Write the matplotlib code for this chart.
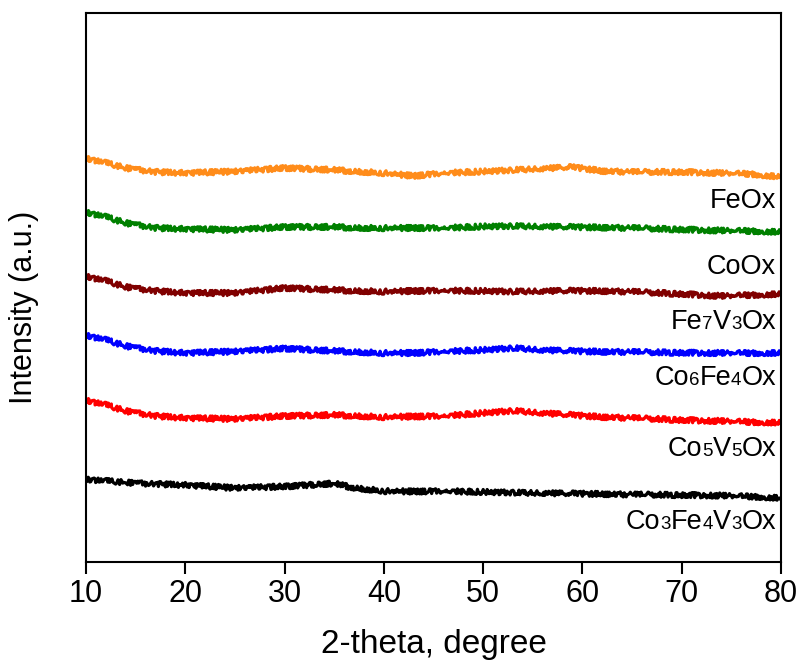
import matplotlib
matplotlib.use("Agg")
import matplotlib.pyplot as plt
from matplotlib.transforms import offset_copy

plt.rcParams["font.family"] = ["Liberation Sans", "DejaVu Sans"]

# 2-theta sampling positions (degree)
two_theta = [10, 12, 14, 17, 20, 25, 30, 35, 37, 40, 43, 46, 50, 53, 56, 59, 62, 65, 70, 74, 77, 80]

# Stacked intensities (a.u., offset traces)
feox = [404, 399, 394, 390, 389, 390.5, 394, 392, 390.5, 389, 386, 389, 390.5, 392, 393.5, 395, 391, 390, 390, 389, 388, 385]
coox = [350, 345, 339, 334, 333, 332, 335, 335, 334, 334, 334, 334, 335.5, 336, 335.5, 335, 334.5, 334, 332.5, 331.5, 331, 330]
fe7v3ox = [286, 281, 275, 271, 269, 269, 274, 272, 271, 270.5, 271, 271.5, 271, 270.5, 271, 271.3, 271, 270.3, 268, 266, 267, 268]
co6fe4ox = [227, 222, 216, 211, 209, 210.5, 213.5, 211, 210, 209, 209, 210.5, 212, 214, 212, 211, 210.3, 210, 209.3, 209, 209, 209]
co5v5ox = [162, 157, 151, 146, 144, 143, 146, 147, 146, 145, 145.5, 146, 149, 151.3, 149, 147, 145, 144, 142, 141, 140, 139.3]
co3fe4v3ox = [83, 81, 79.5, 78, 77, 74, 75.5, 78.5, 74, 71, 70.5, 71, 70, 69.5, 69, 68.5, 68, 67.5, 67, 66.5, 65.5, 64]

series = [feox, coox, fe7v3ox, co6fe4ox, co5v5ox, co3fe4v3ox]
colors = ["#FF8C1A", "#008000", "#800000", "#0000FF", "#FF0000", "#000000"]

# Sample names split into (text, is_digit) runs; digits are set smaller
names = [
    [("FeOx", False)],
    [("CoOx", False)],
    [("Fe", False), ("7", True), ("V", False), ("3", True), ("Ox", False)],
    [("Co", False), ("6", True), ("Fe", False), ("4", True), ("Ox", False)],
    [("Co", False), ("5", True), ("V", False), ("5", True), ("Ox", False)],
    [("Co", False), ("3", True), ("Fe", False), ("4", True), ("V", False), ("3", True), ("Ox", False)],
]
name_y = [354, 288, 233, 177, 106, 33]
name_x = 79.5

fig = plt.figure(figsize=(8.02, 6.63), dpi=100)
ax = fig.add_axes([0.1072, 0.1523, 0.8666, 0.8281])

for ys, c in zip(series, colors):
    ln, = ax.plot(two_theta, ys, color=c, lw=2.3, solid_joinstyle="round")
    ln.set_sketch_params(scale=2.6, length=1.4, randomness=2.5)

ax.set_xlim(10, 80)
ax.set_ylim(0, 549)
ax.set_xticks(range(10, 81, 10))
ax.set_yticks([])
ax.tick_params(axis="x", direction="out", length=8.5, width=1.5, pad=4,
               labelsize=22, top=False)
for s in ax.spines.values():
    s.set_linewidth(1.5)

ax.set_xlabel("2-theta, degree", fontsize=24, labelpad=14)
ax.set_ylabel("Intensity (a.u.)", fontsize=22)
ax.yaxis.set_label_coords(-0.068, 0.464)

fig.canvas.draw()
renderer = fig.canvas.get_renderer()
for runs, y in zip(names, name_y):
    shift = 0.0
    for txt, small in reversed(runs):
        tr = offset_copy(ax.transData, fig=fig, x=-shift, y=0, units="dots")
        t = ax.text(name_x, y, txt, fontsize=13.5 if small else 19.5,
                    ha="right", va="baseline", transform=tr, color="black")
        shift += t.get_window_extent(renderer).width

fig.savefig("out.png", dpi=100)
